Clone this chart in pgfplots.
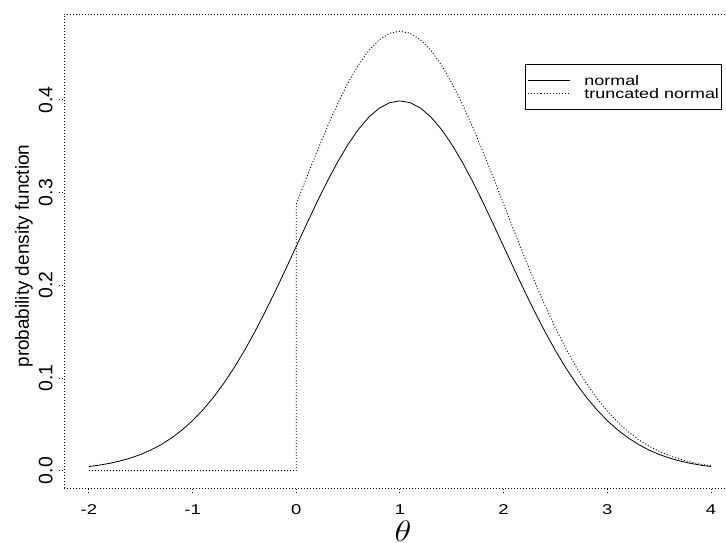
\documentclass[border=0pt]{standalone}
\usepackage{pgfplots}
\pgfplotsset{compat=1.18}
\usepackage{graphicx}
\usepackage{fontspec}
\setmainfont{Liberation Sans}

% Normal(1,1) density and the same density truncated to theta >= 0
\pgfplotstableread{
x y
-2.0 0.004432
-1.9 0.005953
-1.8 0.007915
-1.7 0.010421
-1.6 0.013583
-1.5 0.017528
-1.4 0.022395
-1.3 0.028327
-1.2 0.035475
-1.1 0.043984
-1.0 0.053991
-0.9 0.065616
-0.8 0.078950
-0.7 0.094049
-0.6 0.110921
-0.5 0.129518
-0.4 0.149727
-0.3 0.171369
-0.2 0.194186
-0.1 0.217852
0.0 0.241971
0.1 0.266085
0.2 0.289692
0.3 0.312254
0.4 0.333225
0.5 0.352065
0.6 0.368270
0.7 0.381388
0.8 0.391043
0.9 0.396953
1.0 0.398942
1.1 0.396953
1.2 0.391043
1.3 0.381388
1.4 0.368270
1.5 0.352065
1.6 0.333225
1.7 0.312254
1.8 0.289692
1.9 0.266085
2.0 0.241971
2.1 0.217852
2.2 0.194186
2.3 0.171369
2.4 0.149727
2.5 0.129518
2.6 0.110921
2.7 0.094049
2.8 0.078950
2.9 0.065616
3.0 0.053991
3.1 0.043984
3.2 0.035475
3.3 0.028327
3.4 0.022395
3.5 0.017528
3.6 0.013583
3.7 0.010421
3.8 0.007915
3.9 0.005953
4.0 0.004432
}\normaltab

\pgfplotstableread{
x y
-2.0 0.0
0.0 0.0
0.0 0.287600
0.1 0.316260
0.2 0.344319
0.3 0.371137
0.4 0.396062
0.5 0.418455
0.6 0.437716
0.7 0.453307
0.8 0.464783
0.9 0.471808
1.0 0.474172
1.1 0.471808
1.2 0.464783
1.3 0.453307
1.4 0.437716
1.5 0.418455
1.6 0.396062
1.7 0.371137
1.8 0.344319
1.9 0.316260
2.0 0.287600
2.1 0.258933
2.2 0.230805
2.3 0.203685
2.4 0.177962
2.5 0.153941
2.6 0.131838
2.7 0.111784
2.8 0.093838
2.9 0.077989
3.0 0.064172
3.1 0.052278
3.2 0.042165
3.3 0.033669
3.4 0.026618
3.5 0.020833
3.6 0.016144
3.7 0.012386
3.8 0.009408
3.9 0.007076
4.0 0.005268
}\trunctab

\tikzset{rdot/.style={dash pattern=on 1bp off 2bp}}
% horizontal text is set slightly flattened
\newcommand{\squash}[1]{\scalebox{1}[0.77]{#1}}

\begin{document}
\begin{tikzpicture}
\begin{axis}[
  scale only axis,
  width=662bp, height=474bp,
  xmin=-2.24, xmax=4.145,
  ymin=-0.0187, ymax=0.4927,
  axis x line=box, axis y line=left,
  axis line style={-, black, line width=0.9bp, rdot},
  xtick pos=bottom, ytick pos=left,
  tick align=outside,
  major tick length=5bp,
  tick style={black, line width=0.9bp, rdot},
  xtick={-2,-1,0,1,2,3,4},
  xticklabels={\squash{-2},\squash{-1},\squash{0},\squash{1},\squash{2},\squash{3},\squash{4}},
  ytick={0,0.1,0.2,0.3,0.4},
  yticklabels={0.0,0.1,0.2,0.3,0.4},
  xticklabel style={font=\fontsize{18.5}{20}\selectfont, anchor=base, yshift=-22bp},
  yticklabel style={font=\fontsize{19.5}{21}\selectfont, rotate=90, anchor=base, yshift=6.5bp},
  ylabel={probability density function},
  ylabel style={font=\fontsize{19}{21}\selectfont, at={(axis description cs:-0.0529,0.4895)}, anchor=base},
  xlabel={\scalebox{1.4}[1.19]{$\theta$}},
  xlabel style={font=\fontsize{24}{26}\selectfont, at={(axis description cs:0.512,0)}, anchor=base, yshift=-53bp},
  legend style={at={(axis cs:2.208,0.4387)}, anchor=north west, draw=black, line width=0.7bp,
    font=\fontsize{18}{20}\selectfont, inner xsep=2bp, inner ysep=11bp, row sep=3bp,
    nodes={inner sep=0pt, text height=10bp, text depth=0pt},
    /tikz/every odd column/.append style={column sep=14bp}},
  legend image code/.code={\path (-13bp,0bp) -- (0bp,0bp);\draw[#1] (0bp,0bp) -- (29bp,0bp);},
  legend cell align=left,
]
\addplot[black, line width=0.8bp] table[x=x, y=y] {\normaltab};
\addlegendentry{\squash{normal}}
\addplot[black, line width=0.9bp, rdot] table[x=x, y=y] {\trunctab};
\addlegendentry{\squash{truncated normal}}
\end{axis}
\pgfresetboundingbox
\path (-64bp,-55bp) rectangle (662bp,488bp);
\end{tikzpicture}
\end{document}
